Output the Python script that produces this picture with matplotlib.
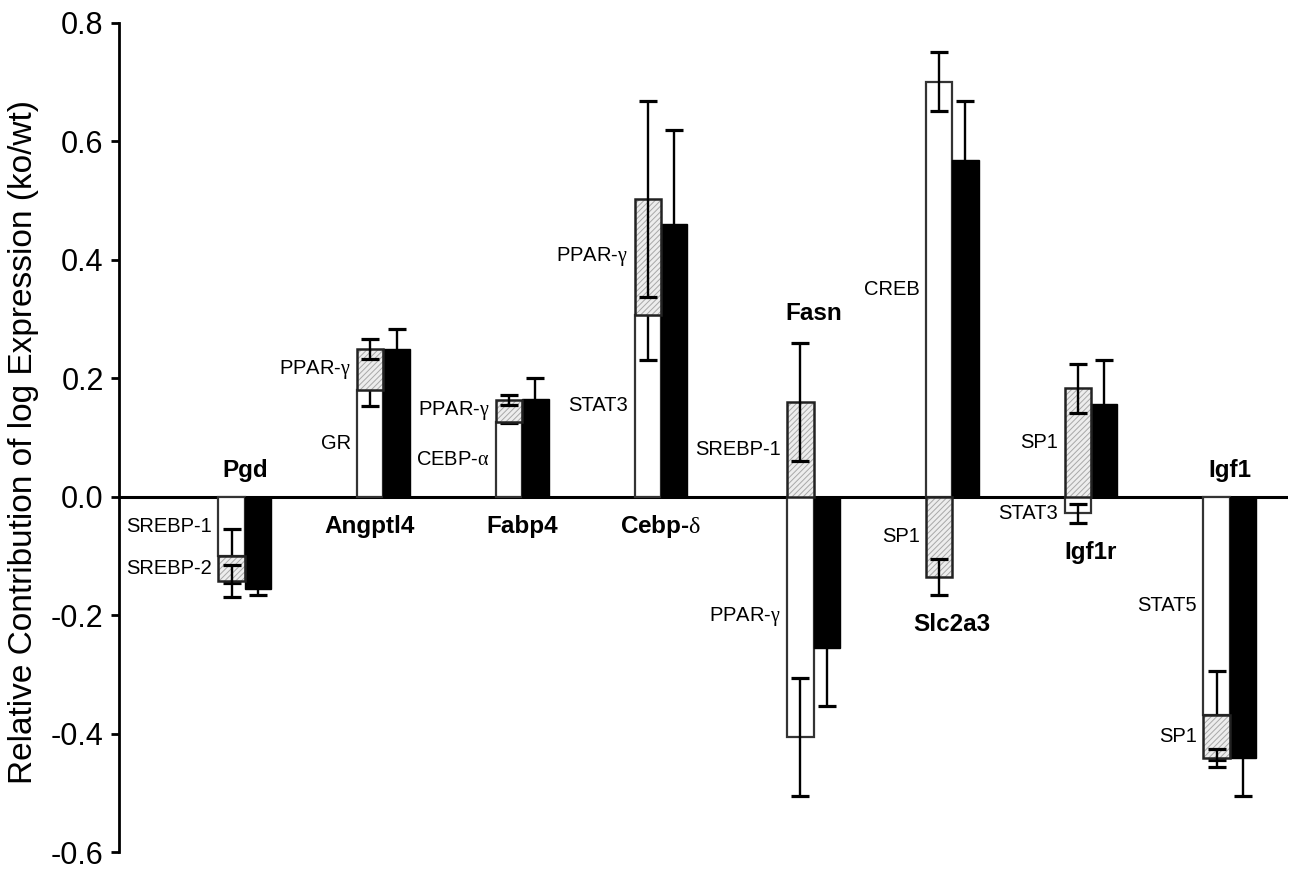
import numpy as np
import matplotlib
matplotlib.use('Agg')
import matplotlib.pyplot as plt
from matplotlib.ticker import FormatStrFormatter

plt.rcParams['font.family'] = ['Liberation Sans', 'DejaVu Sans']
plt.rcParams['axes.unicode_minus'] = False
plt.rcParams['hatch.linewidth'] = 0.7
plt.rcParams['mathtext.fontset'] = 'custom'
plt.rcParams['mathtext.rm'] = 'Liberation Serif'

# genes
genes = ['Pgd', 'Angptl4', 'Fabp4', r'Cebp-$\mathrm{\delta}$', 'Fasn', 'Slc2a3', 'Igf1r', 'Igf1']

# first factor (white part)
tf1_names = ['SREBP-1', 'GR', r'CEBP-$\mathrm{\alpha}$', 'STAT3', r'PPAR-$\mathrm{\gamma}$',
             'CREB', 'STAT3', 'STAT5']
tf1_vals = [-0.100, 0.180, 0.127, 0.307, -0.406, 0.701, -0.028, -0.369]
tf1_err = [0.045, 0.026, 0.003, 0.076, 0.100, 0.050, 0.016, 0.075]

# second factor (hatched part)
tf2_names = ['SREBP-2', r'PPAR-$\mathrm{\gamma}$', r'PPAR-$\mathrm{\gamma}$',
             r'PPAR-$\mathrm{\gamma}$', 'SREBP-1', 'SP1', 'SP1', 'SP1']
tf2_vals = [-0.043, 0.069, 0.036, 0.196, 0.160, -0.136, 0.183, -0.072]
tf2_err = [0.027, 0.017, 0.008, 0.166, 0.100, 0.030, 0.041, 0.015]

# measured total (black bar)
total_vals = [-0.156, 0.249, 0.165, 0.460, -0.256, 0.569, 0.156, -0.442]
total_err = [0.010, 0.034, 0.035, 0.160, 0.097, 0.100, 0.075, 0.064]

# x positions: a small extra gap after Cebp-delta
xpos = np.arange(len(genes)) * 1.0
xpos[4:] += 0.1
w = 0.19

fig = plt.figure(figsize=(12.9, 8.71), dpi=100)
ax = fig.add_axes([119 / 1290, 1 - 852 / 871, 1169 / 1290, (852 - 23) / 871])

eb = dict(fmt='none', ecolor='black', elinewidth=1.7, capsize=6.8, capthick=2.3)
lab_fs = 14.5
gene_fs = 17.5

z = 2
for i, g in enumerate(genes):
    xw = xpos[i] - w / 2
    xb = xpos[i] + w / 2
    v1, v2 = tf1_vals[i], tf2_vals[i]
    # white segment
    ax.bar(xw, v1, w, color='white', edgecolor='#333333', linewidth=1.6, zorder=z)
    ax.errorbar(xw, v1, yerr=tf1_err[i], zorder=z + 1, **eb)
    # hatched segment, stacked if same sign
    base = v1 if np.sign(v1) == np.sign(v2) else 0.0
    ax.bar(xw, v2, w, bottom=base, color='#ededed', edgecolor='#a8a8a8',
           hatch='//////', linewidth=0, zorder=z + 2)
    ax.bar(xw, v2, w, bottom=base, fill=False, edgecolor='#222222',
           linewidth=1.8, zorder=z + 3)
    ax.errorbar(xw, base + v2, yerr=tf2_err[i], zorder=z + 4, **eb)
    # black measured bar
    ax.bar(xb, total_vals[i], w, color='black', edgecolor='black', linewidth=1, zorder=z + 2)
    ax.errorbar(xb, total_vals[i], yerr=total_err[i], zorder=z + 4, **eb)
    z += 6

    # factor labels left of the white bar
    for name, lo, hi in [(tf1_names[i], 0.0, v1), (tf2_names[i], base, base + v2)]:
        ym = (lo + hi) / 2
        if abs(ym) < 0.028:
            ym = np.sign(ym) * 0.028
        ax.text(xw - w / 2 - 0.045, ym, name, ha='right', va='center', fontsize=lab_fs)

    # gene label
    if np.sign(v1) == np.sign(v2):
        yg = -0.05 if v1 > 0 else 0.045
        xg = xpos[i] - (0.1 if i == 1 else 0.0)
    else:
        if abs(v2) < abs(v1):
            small, serr, sbase = v2, tf2_err[i], base
        else:
            small, serr, sbase = v1, tf1_err[i], 0.0
        end = sbase + small
        yg = end + np.sign(small) * (serr + 0.05)
        xg = xpos[i]
    ax.text(xg, yg, g, ha='center', va='center', fontsize=gene_fs, fontweight='bold')

ax.axhline(0, color='black', linewidth=2.2, zorder=1)

ax.set_xlim(-0.906, 7.52)
ax.set_ylim(-0.6, 0.8)
ax.set_yticks(np.arange(-0.6, 0.81, 0.2))
ax.yaxis.set_major_formatter(FormatStrFormatter('%.1f'))
ax.set_xticks([])
for s in ['top', 'right', 'bottom']:
    ax.spines[s].set_visible(False)
ax.spines['left'].set_linewidth(2)
ax.tick_params(axis='y', length=6, width=2, labelsize=22, pad=5)

fig.text(0.018, 1 - 441.5 / 871, 'Relative Contribution of log Expression (ko/wt)',
         rotation=90, ha='center', va='center', fontsize=24)

fig.savefig('out.png', dpi=100)
